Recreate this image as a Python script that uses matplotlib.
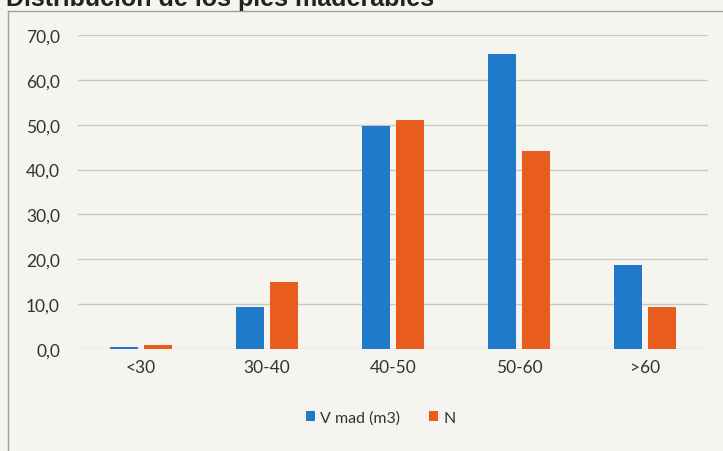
import matplotlib

matplotlib.use("Agg")
import matplotlib.pyplot as plt
from matplotlib.lines import Line2D
import numpy as np

categories = ["<30", "30-40", "40-50", "50-60", ">60"]
v_mad = [0.5, 9.4, 49.7, 65.8, 18.8]
n_pies = [1.0, 14.9, 51.0, 44.1, 9.4]
yticks = [0, 10, 20, 30, 40, 50, 60, 70]

BLUE = "#1f7bc9"
ORANGE = "#e85d1e"
BG = "#f6f4ee"

plt.rcParams["font.family"] = ["Lato", "DejaVu Sans"]

fig = plt.figure(figsize=(7.23, 4.52), dpi=100, facecolor=BG)
ax = fig.add_axes([78 / 723, 1 - 350 / 452, 630 / 723, 314 / 452])
ax.set_facecolor(BG)

x = np.arange(len(categories))
w = 0.22
ax.bar(x - 0.135, v_mad, width=w, color=BLUE, label="V mad (m3)", zorder=3)
ax.bar(x + 0.135, n_pies, width=w, color=ORANGE, label="N", zorder=3)

ax.set_xlim(-0.5, len(categories) - 0.5)
ax.set_ylim(0, 70)
ax.set_yticks(yticks)
ax.set_yticklabels([f"{v:.1f}".replace(".", ",") for v in yticks])
ax.set_xticks(x)
ax.set_xticklabels(categories)
ax.tick_params(axis="both", length=0, labelsize=12.5, colors="#333333")
ax.tick_params(axis="y", pad=13)
ax.tick_params(axis="x", pad=7)
ax.grid(axis="y", color="#c8c8c8", linewidth=1, zorder=0)
for s in ax.spines.values():
    s.set_visible(False)

ax.legend(loc="upper center", bbox_to_anchor=(0.48, -0.15), ncol=2, frameon=False,
          fontsize=11.5, handlelength=0.6, handleheight=0.6, handletextpad=0.3,
          columnspacing=1.8, labelcolor="#333333")

# chart border (partially cropped scan)
fig.add_artist(Line2D([8 / 723, 8 / 723], [0, 1 - 12 / 452], color="#a0a0a0", lw=1))
fig.add_artist(Line2D([8 / 723, 1], [1 - 12 / 452, 1 - 12 / 452], color="#a0a0a0", lw=1))

# title cut off at the top of the scan, as in the original
fig.text(6 / 723, 1 - 6 / 452, "Distribución de los pies maderables", family="Liberation Sans",
         fontsize=18, fontweight="bold", color="#222222", va="baseline", ha="left")

fig.savefig("out.png", dpi=100, facecolor=BG)
